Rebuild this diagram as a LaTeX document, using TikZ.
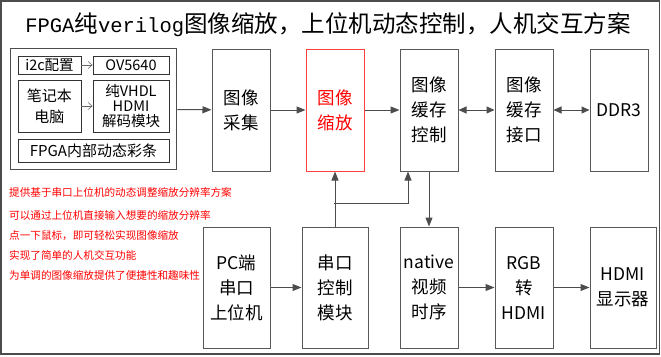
\documentclass[tikz,border=0pt]{standalone}
\usepackage{fontspec}
\setmainfont{Noto Sans CJK SC}
\newfontfamily\titlecjk{Noto Sans CJK SC}
\newfontfamily\titlelat{Liberation Mono}
\usetikzlibrary{arrows.meta,positioning,fit}
\newcommand\tlat[1]{{\titlelat\fontsize{20.5}{24}\selectfont #1}}
\newcommand\tcjk[1]{{\titlecjk\fontsize{23.5}{24}\selectfont #1}}

\begin{document}
\begin{tikzpicture}[x=1pt,y=-1pt,
box/.style={draw=black!65,line width=1pt,minimum width=58pt,minimum height=122pt,align=center,inner sep=1pt,font=\fontsize{17.5}{25}\selectfont},
sbox/.style={draw=black!80,line width=.8pt,align=center,inner sep=1pt,font=\fontsize{14.5}{15}\selectfont},
arr/.style={-{Triangle[length=9pt,width=7pt]},draw=black!70,line width=1pt},
darr/.style={{Triangle[length=8pt,width=7pt]}-{Triangle[length=8pt,width=7pt]},draw=black!70,line width=1pt},
sarr/.style={-{Straight Barb[length=4pt,width=7pt]},draw=black!60,line width=.6pt},
note/.style={anchor=west,text=red,inner sep=0pt,font=\fontsize{10.6}{12}\selectfont}]
\useasboundingbox (0,0) rectangle (661,356);
\draw[black!70,line width=1.5pt] (1,1) rectangle (659.5,354);
\node (title) at (328,25) {\tlat{FPGA}\tcjk{纯}\tlat{verilog}\tcjk{图像缩放，上位机动态控制，人机交互方案}};
% source group
\node[sbox,minimum width=63pt,minimum height=18pt] (i2c) at (49.5,65) {i2c配置};
\node[sbox,minimum width=76pt,minimum height=18pt] (ov) at (131,65) {OV5640};
\node[sbox,minimum width=63pt,minimum height=52pt,font=\fontsize{15}{21}\selectfont] (nb) at (49.5,106) {笔记本\\电脑};
\node[sbox,minimum width=76pt,minimum height=52pt] (dec) at (131,106) {纯VHDL\\HDMI\\解码模块};
\node[sbox,minimum width=151pt,minimum height=23pt,font=\fontsize{15}{15}\selectfont] (bar) at (93.5,150.5) {FPGA内部动态彩条};
\node[draw=black!70,line width=1pt,fit=(i2c)(ov)(bar),inner sep=7.5pt] (grp) {};
\draw[sarr] (i2c) -- (ov); \draw[sarr] (nb) -- (dec);
% top row
\node[box] (cai) at (241,110) {图像\\采集};
\node[box,draw=red!75,text=red,right=35pt of cai] (suo) {图像\\缩放};
\node[box,right=35pt of suo] (hc) {图像\\缓存\\控制};
\node[box,right=36pt of hc] (jk) {图像\\缓存\\接口};
\node[box,right=36pt of jk] (ddr) {DDR3};
% bottom row
\node[box,minimum height=121pt,below=55pt of hc] (nat) {native\\视频\\时序};
\node[box,minimum height=121pt,right=36pt of nat] (rgb) {RGB\\转\\HDMI};
\node[box,minimum width=66pt,minimum height=121pt,right=36pt of rgb] (hdmi) {HDMI\\显示器};
\node[box,minimum width=66pt,minimum height=121pt,left=31pt of nat] (ck) {串口\\控制\\模块};
\node[box,minimum width=67pt,minimum height=121pt,left=31pt of ck] (pc) {PC端\\串口\\上位机};
\draw[arr] (grp) -- (cai); \draw[arr] (cai) -- (suo); \draw[arr] (suo) -- (hc);
\draw[darr] (hc) -- (jk); \draw[darr] (jk) -- (ddr);
\draw[arr] (pc) -- (ck); \draw[arr] (nat) -- (rgb); \draw[arr] (rgb) -- (hdmi);
\draw[arr] (ck) -- (suo); \draw[arr] (hc) -- (nat);
\coordinate (j1) at (334,203); \coordinate (j2) at (408,203);
\draw[arr] (j1) -- (j2) -- (j2 |- hc.south);
% notes
\node[note] (t1) at (9,192) {提供基于串口上位机的动态调整缩放分辨率方案};
\node[note] (t2) at (9,215) {可以通过上位机直接输入想要的缩放分辨率};
\node[note] (t3) at (9,235.5) {点一下鼠标，即可轻松实现图像缩放};
\node[note] (t4) at (9,255) {实现了简单的人机交互功能};
\node[note] (t5) at (9,275) {为单调的图像缩放提供了便捷性和趣味性};
\end{tikzpicture}
\end{document}
